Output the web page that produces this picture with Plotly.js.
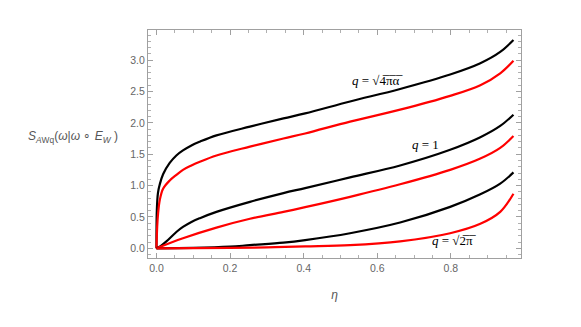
<!DOCTYPE html>
<html>
<head>
<meta charset="utf-8">
<script src="https://cdn.plot.ly/plotly-3.0.1.min.js"></script>
<style>html,body{margin:0;padding:0;background:#fff}</style>
</head>
<body>
<div id="chart" style="width:581px;height:327px"></div>
<script>
// q = sqrt(4 pi alpha)
var etaTop = [0, 0.001, 0.004, 0.009, 0.018, 0.036, 0.054, 0.072, 0.095, 0.118, 0.163, 0.254, 0.345, 0.404, 0.526, 0.662, 0.798, 0.88, 0.934, 0.97];
var topBlack = [0, 0.6, 0.88, 1.02, 1.18, 1.36, 1.48, 1.56, 1.64, 1.70, 1.80, 1.94, 2.07, 2.15, 2.34, 2.54, 2.77, 2.95, 3.13, 3.32];
var etaTopRed = [0, 0.002, 0.0045, 0.009, 0.018, 0.036, 0.054, 0.072, 0.095, 0.118, 0.163, 0.254, 0.345, 0.404, 0.526, 0.662, 0.798, 0.88, 0.934, 0.97];
var topRed = [0, 0.35, 0.56, 0.77, 0.95, 1.08, 1.17, 1.25, 1.32, 1.38, 1.48, 1.62, 1.75, 1.83, 2.02, 2.21, 2.43, 2.60, 2.79, 2.99];

// q = 1
var etaMid = [0, 0.01, 0.027, 0.054, 0.072, 0.095, 0.118, 0.163, 0.254, 0.345, 0.404, 0.526, 0.662, 0.798, 0.88, 0.934, 0.97];
var midBlack = [0, 0.03, 0.11, 0.26, 0.34, 0.42, 0.48, 0.58, 0.74, 0.88, 0.96, 1.13, 1.32, 1.57, 1.77, 1.95, 2.13];
var etaMidRed = [0, 0.072, 0.163, 0.254, 0.345, 0.404, 0.526, 0.662, 0.798, 0.88, 0.934, 0.97];
var midRed = [0, 0.16, 0.33, 0.47, 0.58, 0.655, 0.82, 1.02, 1.25, 1.43, 1.60, 1.79];

// q = sqrt(2 pi)
var etaLow = [0, 0.1, 0.2, 0.254, 0.345, 0.404, 0.526, 0.662, 0.798, 0.88, 0.934, 0.97];
var lowBlack = [0, 0.005, 0.025, 0.05, 0.09, 0.13, 0.24, 0.41, 0.66, 0.86, 1.03, 1.21];
var etaLowRed = [0, 0.2, 0.3, 0.404, 0.526, 0.662, 0.798, 0.88, 0.934, 0.97];
var lowRed = [0, 0.005, 0.015, 0.03, 0.05, 0.11, 0.24, 0.39, 0.58, 0.87];

var labelText = ['<i>q</i> = √4̅π̅α̅', '<i>q</i> = 1', '<i>q</i> = √2̅π̅'];
var labelX = [0.6, 0.73, 0.81];
var labelY = [2.67, 1.66, 0.13];

function curve(x, y, color) {
  return {x: x, y: y, mode: 'lines', type: 'scatter',
    line: {color: color, width: 2.2, shape: 'spline', smoothing: 1.0},
    hoverinfo: 'skip', showlegend: false};
}

var data = [
  curve(etaTop, topBlack, '#000000'),
  curve(etaTopRed, topRed, '#ff0000'),
  curve(etaMid, midBlack, '#000000'),
  curve(etaMidRed, midRed, '#ff0000'),
  curve(etaLow, lowBlack, '#000000'),
  curve(etaLowRed, lowRed, '#ff0000')
];

var axisCommon = {
  showgrid: false, zeroline: false,
  showline: true, linecolor: '#a0a0a0', linewidth: 1, mirror: 'ticks',
  ticks: 'inside', ticklen: 5, tickcolor: '#a0a0a0', tickwidth: 1,
  tickfont: {family: 'Liberation Sans, Arial, sans-serif', size: 10.5, color: '#666666'}
};

var layout = {
  width: 581, height: 327,
  margin: {l: 148, r: 60, t: 30, b: 69},
  paper_bgcolor: '#ffffff', plot_bgcolor: '#ffffff',
  xaxis: Object.assign({}, axisCommon, {
    range: [-0.023, 0.9905], tick0: 0, dtick: 0.2, tickformat: '.1f',
    minor: {dtick: 0.05, ticks: 'inside', ticklen: 3, tickcolor: '#b0b0b0', showgrid: false},
    title: {text: '<i>η</i>', standoff: 18,
      font: {family: 'Liberation Sans, Arial, sans-serif', size: 12, color: '#555555'}}
  }),
  yaxis: Object.assign({}, axisCommon, {
    range: [-0.155, 3.48], tick0: 0, dtick: 0.5, tickformat: '.1f',
    minor: {dtick: 0.1, ticks: 'inside', ticklen: 3, tickcolor: '#b0b0b0', showgrid: false}
  }),
  annotations: [
    {xref: 'paper', yref: 'paper', x: -0.075, y: 0.53, xanchor: 'right', yanchor: 'middle', showarrow: false,
     text: '<i>S</i><sub><i>A</i>Wq</sub>(<i>ω</i>|<i>ω</i> ∘ <i>E</i><sub><i>W</i></sub> )',
     font: {family: 'Liberation Sans, Arial, sans-serif', size: 12, color: '#555555'}}
  ].concat(labelText.map(function (t, i) {
    return {xref: 'x', yref: 'y', x: labelX[i], y: labelY[i], text: t, showarrow: false,
      xanchor: 'center', yanchor: 'middle',
      font: {family: 'Liberation Serif, Times New Roman, serif', size: 13, color: '#000000'}};
  }))
};

Plotly.newPlot('chart', data, layout, {staticPlot: true, displayModeBar: false});
</script>
</body>
</html>
